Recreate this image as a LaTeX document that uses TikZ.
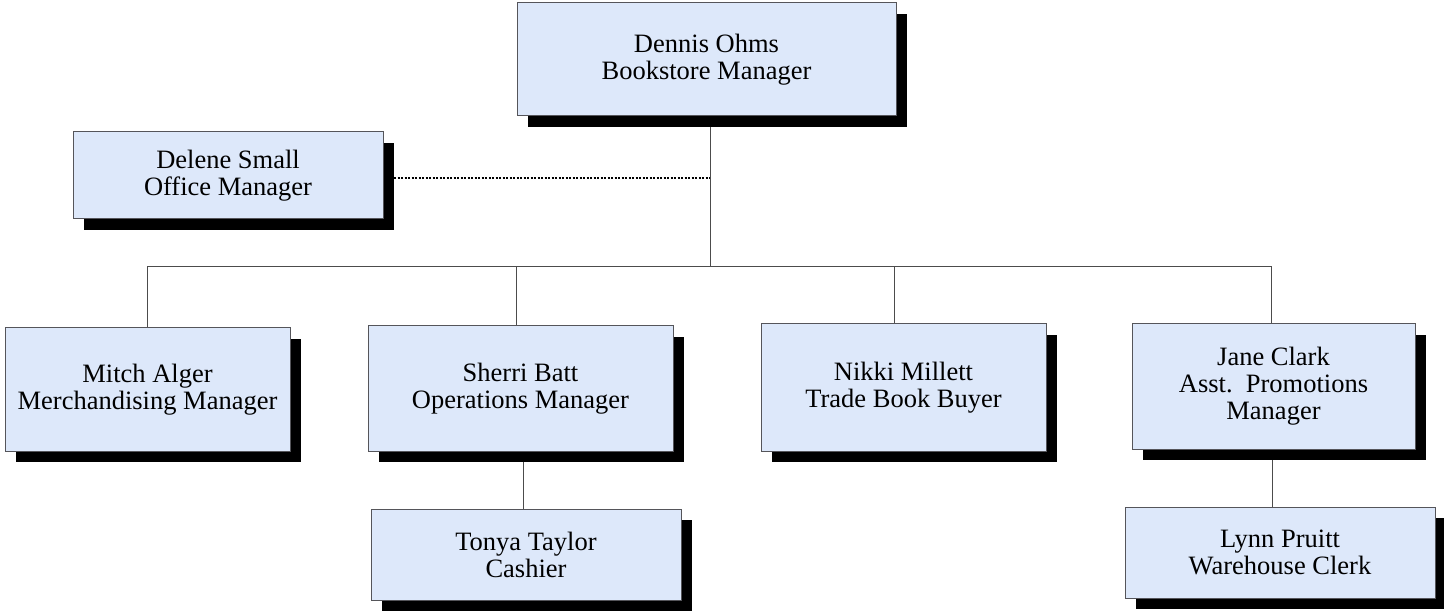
\documentclass[tikz,border=0pt]{standalone}
\usepackage{fontspec}
\setmainfont{Liberation Serif}
\usetikzlibrary{positioning, shadows, backgrounds}
\definecolor{boxfill}{RGB}{221,232,250}
\definecolor{boxline}{RGB}{85,85,90}

\begin{document}
\begin{tikzpicture}[x = 1pt, y = -1pt, font = \fontsize{26.5}{27}\selectfont,
    person/.style = {draw = boxline, fill = boxfill, line width = 1pt, align = center, inner sep = 0pt,
        drop shadow = {shadow xshift = 10.5pt, shadow yshift = -11pt, fill = black, opacity = 1}},
    link/.style = {draw = black!70, line width = 1pt},
    staffline/.style = {draw = black, line width = 2pt, dash pattern = on 2pt off 1.5pt}]
    \useasboundingbox (0,0) rectangle (1444,612);
    \node[person, minimum width = 379pt, minimum height = 113pt]	(ohms)		at (706.5,59.5)	{Dennis Ohms\\Bookstore Manager};
    \node[person, minimum width = 310pt, minimum height = 87pt]	(small)		at (228,175.5)	{Delene Small\\Office Manager};
    \node[person, minimum width = 285pt, minimum height = 123pt]	(alger)		at (147.5,389.5)	{Mitch Alger\\Merchandising Manager};
    \node[person, minimum width = 305pt, minimum height = 125pt]	(batt)		at (520.5,388.5)	{Sherri Batt\\Operations Manager};
    \node[person, minimum width = 285pt, minimum height = 127pt]	(millett)	at (903.5,387.5)	{Nikki Millett\\Trade Book Buyer};
    \node[person, minimum width = 283pt, minimum height = 125pt]	(clark)		at (1273.5,386.5)	{Jane Clark\\Asst.\ \ Promotions\\Manager};
    \node[person, minimum width = 310pt, minimum height = 91pt]	(taylor)	at (526,554.5)	{Tonya Taylor\\Cashier};
    \node[person, minimum width = 310pt, minimum height = 91pt]	(pruitt)	at (1280,552.5)	{Lynn Pruitt\\Warehouse Clerk};
    \coordinate (bus) at (710,267);
    \coordinate (staff) at (710,178);
    \begin{scope}[on background layer]
    \path	(ohms.south -| bus)	edge[link]	(bus);
    \path	(small.east |- staff)	edge[staffline]	(staff);
    \draw[link]	(alger.north) |- (bus);
    \draw[link]	([xshift = -4.5pt]batt.north) |- (bus);
    \draw[link]	([xshift = -9.5pt]millett.north) |- (bus);
    \draw[link]	([xshift = -2.5pt]clark.north) |- (bus);
    \draw[link]	([xshift = -3pt]taylor.north) -- ++(0,-60);
    \draw[link]	([xshift = -8pt]pruitt.north) -- ++(0,-60);
    \end{scope}
\end{tikzpicture}
\end{document}
